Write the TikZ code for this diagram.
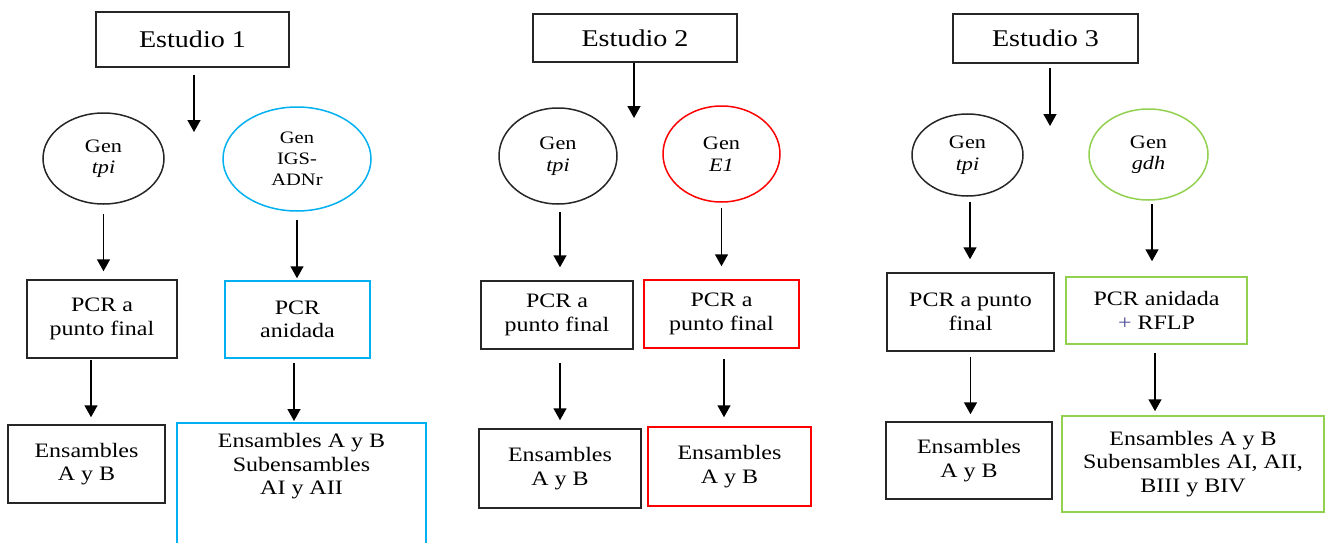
\documentclass[tikz,border=0pt]{standalone}
\usepackage{fontspec}
\setmainfont[FakeStretch=1.17]{Liberation Serif}
\usetikzlibrary{shapes.geometric,arrows.meta,calc}
\definecolor{cblue}{HTML}{00B0F0}
\definecolor{cred}{HTML}{FF0000}
\definecolor{cgreen}{HTML}{92D050}
\definecolor{cline}{HTML}{262626}
\definecolor{cplus}{rgb}{0.3,0.3,0.6}
\newcommand{\mybodyfont}{\fontsize{20.5}{23.5}\selectfont}
\newcommand{\mytitlefont}{\fontsize{24}{28}\selectfont}
\newcommand{\myellfont}{\fontsize{19}{21.5}\selectfont}
\newcommand{\mysmallellfont}{\fontsize{17.5}{21}\selectfont}
\begin{document}
\begin{tikzpicture}[x=1pt,y=-1pt,
  box/.style={draw=cline, line width=1.5pt, rectangle, align=center, inner sep=0pt, font=\mybodyfont},
  titlebox/.style={box, font=\mytitlefont},
  ell/.style={draw=cline, line width=1.5pt, ellipse, align=center, inner sep=0pt, font=\myellfont},
  arr/.style 2 args={draw=black, line width=1.5pt, -{Triangle[width=13pt,length=12pt]}, shorten <=#1pt, shorten >=#2pt}
]
\useasboundingbox (0,0) rectangle (1325,543);
\clip (0,0) rectangle (1325,543);

% ---------------- Estudio 1 ----------------
\node[titlebox, minimum width=193pt, minimum height=55pt] (s1) at (192.5,39.5) {Estudio 1};
\coordinate (e1) at (194,132);
\node[ell, minimum width=121pt, minimum height=91pt] (g1) at (103.5,158.5) {Gen\\\textit{tpi}};
\node[ell, draw=cblue, minimum width=148pt, minimum height=104pt, font=\mysmallellfont] (g2) at (297,159) {Gen\\IGS-\\ADNr};
\node[box, minimum width=150pt, minimum height=78pt] (p1) at (102,319) {PCR a\\punto final};
\node[box, draw=cblue, minimum width=145pt, minimum height=77pt] (p2) at (297.5,319.5) {PCR\\anidada};
\node[box, minimum width=157pt, minimum height=78pt] (r1) at (86.5,464) {Ensambles\\A y B};
\node[box, draw=cblue, anchor=north, minimum width=249pt, inner ysep=11pt, text depth=90pt] (r2) at (301.5,422) {Ensambles A y B\\Subensambles\\AI y AII};

\draw[arr={7}{0}] (s1.south -| e1) -- (e1);
\draw[arr={9}{8}] (g1.south) -- (g1.south |- p1.north);
\draw[arr={8}{2}] (g2.south) -- (g2.south |- p2.north);
\draw[arr={1}{7}] ([xshift=-11pt]p1.south) -- ([xshift=-11pt]p1.south |- r1.north);
\draw[arr={4}{1}] ([xshift=-3.5pt]p2.south) -- ([xshift=-3.5pt]p2.south |- r2.north);

% ---------------- Estudio 2 ----------------
\node[titlebox, minimum width=204pt, minimum height=48pt] (s2) at (635,38) {Estudio 2};
\coordinate (e2) at (634,118);
\node[ell, minimum width=118pt, minimum height=96pt] (g3) at (558,156) {Gen\\\textit{tpi}};
\node[ell, draw=cred, minimum width=117pt, minimum height=96pt] (g4) at (721.5,154) {Gen\\\textit{E1}};
\node[box, minimum width=152pt, minimum height=68pt] (p3) at (557,315) {PCR a\\punto final};
\node[box, draw=cred, minimum width=155pt, minimum height=68pt] (p4) at (721.5,314) {PCR a\\punto final};
\node[box, minimum width=162pt, minimum height=79pt] (r3) at (560,468.5) {Ensambles\\A y B};
\node[box, draw=cred, minimum width=163pt, minimum height=79pt] (r4) at (729.5,466.5) {Ensambles\\A y B};

\draw[arr={0}{0}] (s2.south -| e2) -- (e2);
\draw[arr={7}{13}] ([xshift=2pt]g3.south) -- ([xshift=2pt]g3.south |- p3.north);
\draw[arr={5}{13}] (g4.south) -- (g4.south |- p4.north);
\draw[arr={13}{8}] ([xshift=3pt]p3.south) -- ([xshift=3pt]p3.south |- r3.north);
\draw[arr={10}{9}] ([xshift=2.5pt]p4.south) -- ([xshift=2.5pt]p4.south |- r4.north);

% ---------------- Estudio 3 ----------------
\node[titlebox, minimum width=185pt, minimum height=49pt] (s3) at (1045.5,38.5) {Estudio 3};
\coordinate (e3) at (1050,126);
\node[ell, minimum width=111pt, minimum height=82pt] (g5) at (967.5,155) {Gen\\\textit{tpi}};
\node[ell, draw=cgreen, minimum width=119pt, minimum height=91pt] (g6) at (1148.5,154.5) {Gen\\\textit{gdh}};
\node[box, minimum width=167pt, minimum height=78pt] (p5) at (970.5,312) {PCR a punto\\final};
\node[box, draw=cgreen, minimum width=181pt, minimum height=67pt] (p6) at (1156.5,310.5) {PCR anidada\\\textcolor{cplus}{+} RFLP};
\node[box, minimum width=166pt, minimum height=77pt] (r5) at (969,460.5) {Ensambles\\A y B};
\node[box, draw=cgreen, minimum width=262pt, minimum height=96pt] (r6) at (1193,464) {Ensambles A y B\\Subensambles AI, AII,\\BIII y BIV};

\draw[arr={4}{0}] (s3.south -| e3) -- (e3);
\draw[arr={5}{13}] ([xshift=2.5pt]g5.south) -- ([xshift=2.5pt]g5.south |- p5.north);
\draw[arr={3}{15}] ([xshift=3.5pt]g6.south) -- ([xshift=3.5pt]g6.south |- p6.north);
\draw[arr={5}{7}] (p5.south) -- (p5.south |- r5.north);
\draw[arr={8}{4}] ([xshift=-1.5pt]p6.south) -- ([xshift=-1.5pt]p6.south |- r6.north);
\end{tikzpicture}
\end{document}
